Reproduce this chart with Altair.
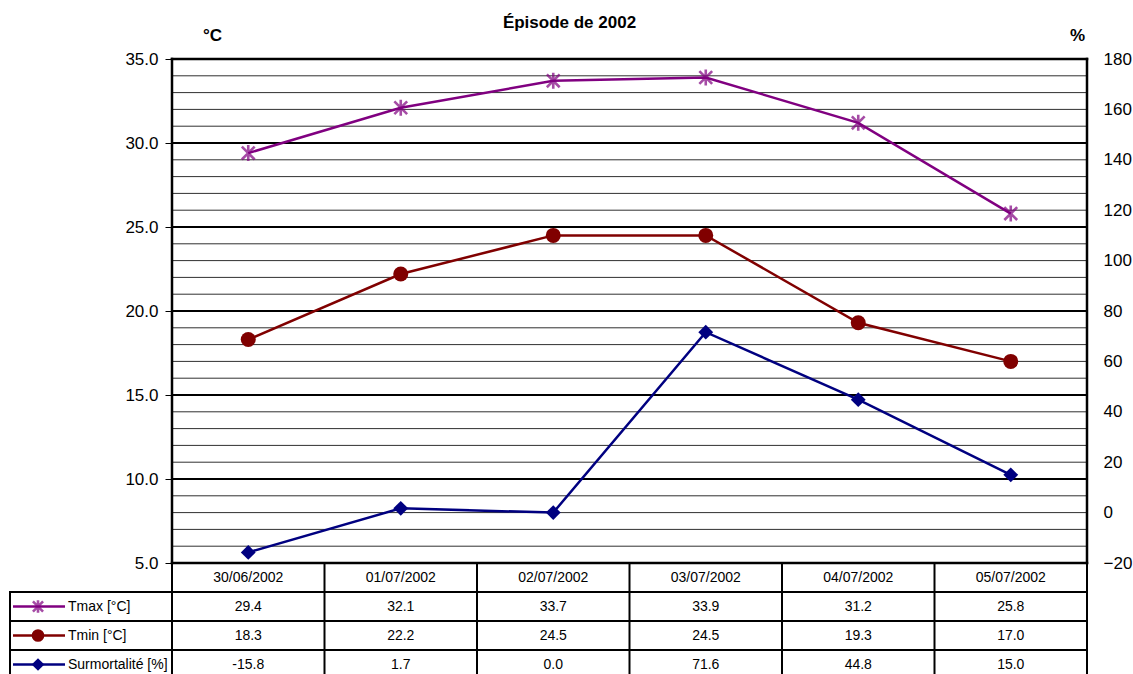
import altair as alt
import pandas as pd

# ---- data -------------------------------------------------------------
dates = ["30/06/2002", "01/07/2002", "02/07/2002", "03/07/2002", "04/07/2002", "05/07/2002"]
tmax = [29.4, 32.1, 33.7, 33.9, 31.2, 25.8]
tmin = [18.3, 22.2, 24.5, 24.5, 19.3, 17.0]
surmortalite = [-15.8, 1.7, 0.0, 71.6, 44.8, 15.0]

series_names = ["Tmax [°C]", "Tmin [°C]", "Surmortalité [%]"]
series_colors = ["#800080", "#800000", "#000080"]

temp_ticks = [5, 10, 15, 20, 25, 30, 35]
pct_ticks = [-20, 0, 20, 40, 60, 80, 100, 120, 140, 160, 180]

# ---- layout (pixels) --------------------------------------------------
COL_W = 152.5      # width of one date column
LEGEND_W = 162     # width of the legend column of the data table
PLOT_H = 504       # height of the plotting area
ROW_H = 29         # height of one table row
N_ROWS = 4         # header row + three series rows
TABLE_H = ROW_H * N_ROWS
WIDTH = 6 * COL_W + LEGEND_W
HEIGHT = PLOT_H + TABLE_H

T_LO, T_HI = temp_ticks[0], temp_ticks[-1]
P_LO, P_HI = pct_ticks[0], pct_ticks[-1]
px_deg = PLOT_H / (T_HI - T_LO)
px_pct = PLOT_H / (P_HI - P_LO)
t_domain = [T_LO - TABLE_H / px_deg, T_HI]
p_domain = [P_LO - TABLE_H / px_pct, P_HI]

n = len(dates)
x_left = -0.5 - LEGEND_W / COL_W
x_right = n - 0.5
x_domain = [x_left, x_right]
FONT = "Liberation Sans"
LINE_W = 2.5


def row_edge(k):
    """Temperature-scale y of the k-th horizontal table line below the plot."""
    return T_LO - k * ROW_H / px_deg


def row_mid(k):
    return T_LO - (k + 0.5) * ROW_H / px_deg


def px(dx):
    """Horizontal pixel offset expressed in x-scale units."""
    return dx / COL_W


# ---- rules: grid, frame and table borders ------------------------------
rules = []
for t in range(T_LO + 1, T_HI):
    if t % 5:
        rules.append(dict(x=-0.5, x2=x_right, y=t, y2=t, w=1, c="#303030"))
for t in temp_ticks[1:-1]:
    rules.append(dict(x=-0.5, x2=x_right, y=t, y2=t, w=2, c="black"))
# plot frame
rules.append(dict(x=-0.5, x2=x_right, y=T_HI, y2=T_HI, w=2.5, c="black"))
rules.append(dict(x=-0.5, x2=x_right, y=T_LO, y2=T_LO, w=2.5, c="black"))
rules.append(dict(x=-0.5, x2=-0.5, y=T_LO, y2=T_HI, w=2.5, c="black"))
rules.append(dict(x=x_right, x2=x_right, y=T_LO, y2=T_HI, w=2.5, c="black"))
# table
for k in range(1, N_ROWS + 1):
    rules.append(dict(x=x_left, x2=x_right, y=row_edge(k), y2=row_edge(k), w=2, c="black"))
for i in range(n + 1):
    rules.append(dict(x=i - 0.5, x2=i - 0.5, y=row_edge(0), y2=row_edge(N_ROWS), w=2, c="black"))
rules.append(dict(x=x_left, x2=x_left, y=row_edge(1), y2=row_edge(N_ROWS), w=2, c="black"))
rules_df = pd.DataFrame(rules)

x_enc = dict(scale=alt.Scale(domain=x_domain, nice=False, zero=False), axis=None)

left_axis = alt.Axis(
    orient="left", offset=-LEGEND_W, values=temp_ticks, format=".1f",
    domain=False, grid=False, ticks=True, tickSize=7, tickColor="black", tickWidth=1,
    labelFontSize=17, labelColor="black", labelPadding=7, labelFont=FONT,
    title="°C", titleAngle=0, titleX=40, titleY=-24, titleAlign="center",
    titleBaseline="middle", titleFontSize=17, titleFontWeight="bold", titleColor="black",
    titleFont=FONT,
)
t_scale = alt.Scale(domain=t_domain, nice=False, zero=False)

rule_layer = alt.Chart(rules_df).mark_rule(strokeCap="square").encode(
    x=alt.X("x:Q", **x_enc),
    x2="x2:Q",
    y=alt.Y("y:Q", scale=t_scale, axis=left_axis),
    y2="y2:Q",
    strokeWidth=alt.StrokeWidth("w:Q", scale=None),
    color=alt.Color("c:N", scale=None),
)

# ---- table text --------------------------------------------------------
cells = []
for i, d in enumerate(dates):
    cells.append(dict(x=i, y=row_mid(0), text=d))
for k, vals in enumerate([tmax, tmin, surmortalite], start=1):
    for i, v in enumerate(vals):
        cells.append(dict(x=i, y=row_mid(k), text=f"{v:.1f}"))
cells_df = pd.DataFrame(cells)

cell_text = alt.Chart(cells_df).mark_text(
    font=FONT, fontSize=14, color="black", align="center", baseline="middle"
).encode(x=alt.X("x:Q", **x_enc), y=alt.Y("y:Q", scale=t_scale), text="text:N")

# legend column of the table
key_df = pd.DataFrame(dict(
    x=[x_left + px(3)] * 3,
    x2=[x_left + px(55)] * 3,
    xm=[x_left + px(28)] * 3,
    xt=[x_left + px(58)] * 3,
    y=[row_mid(k) for k in (1, 2, 3)],
    name=series_names,
    c=series_colors,
))
key_lines = alt.Chart(key_df).mark_rule(strokeWidth=LINE_W).encode(
    x=alt.X("x:Q", **x_enc), x2="x2:Q", y=alt.Y("y:Q", scale=t_scale),
    color=alt.Color("c:N", scale=None),
)
key_text = alt.Chart(key_df).mark_text(
    font=FONT, fontSize=14, color="black", align="left", baseline="middle"
).encode(x=alt.X("xt:Q", **x_enc), y=alt.Y("y:Q", scale=t_scale), text="name:N")

ASTERISK = "M0,-1L0,1M-0.8,-0.8L0.8,0.8M-0.8,0.8L0.8,-0.8"
marker_styles = [
    dict(shape=ASTERISK, filled=False, strokeWidth=2.6),
    dict(shape="circle", filled=True, opacity=1),
    dict(shape="diamond", filled=True, opacity=1),
]

key_marks = [
    alt.Chart(key_df.iloc[[k]]).mark_point(size=160, color=series_colors[k], **marker_styles[k]).encode(
        x=alt.X("xm:Q", **x_enc), y=alt.Y("y:Q", scale=t_scale)
    )
    for k in range(3)
]

# ---- series -------------------------------------------------------------
temp_df = pd.DataFrame(dict(x=list(range(n)) * 2, t=tmax + tmin,
                            s=["Tmax"] * n + ["Tmin"] * n))
temp_layers = []
for k, s in enumerate(["Tmax", "Tmin"]):
    base = alt.Chart(temp_df[temp_df.s == s]).encode(
        x=alt.X("x:Q", **x_enc), y=alt.Y("t:Q", scale=t_scale)
    )
    temp_layers.append(base.mark_line(color=series_colors[k], strokeWidth=LINE_W))
    temp_layers.append(base.mark_point(
        size=256 if k == 0 else 225, color=series_colors[k], **marker_styles[k]))

left = alt.layer(rule_layer, cell_text, key_lines, key_text, *key_marks, *temp_layers)

pct_df = pd.DataFrame(dict(x=list(range(n)), p=surmortalite))
right_axis = alt.Axis(
    orient="right", values=pct_ticks, format="d", domain=False, grid=False, ticks=False,
    labelFontSize=17, labelColor="black", labelPadding=16, labelFont=FONT,
    title="%", titleAngle=0, titleX=-10, titleY=-24, titleAlign="center",
    titleBaseline="middle", titleFontSize=17, titleFontWeight="bold", titleColor="black",
    titleFont=FONT,
)
pct_base = alt.Chart(pct_df).encode(
    x=alt.X("x:Q", **x_enc),
    y=alt.Y("p:Q", scale=alt.Scale(domain=p_domain, nice=False, zero=False), axis=right_axis),
)
right = alt.layer(
    pct_base.mark_line(color=series_colors[2], strokeWidth=LINE_W),
    pct_base.mark_point(size=220, color=series_colors[2], **marker_styles[2]),
)

chart = alt.layer(left, right).resolve_scale(y="independent").properties(
    width=WIDTH,
    height=HEIGHT,
    title=alt.TitleParams("Épisode de 2002", font=FONT, fontSize=17, fontWeight="bold",
                          color="black", anchor="middle", dx=21, offset=-6),
    autosize=alt.AutoSizeParams(type="none"),
    padding={"left": 10, "top": 59, "right": 46, "bottom": 0},
    background="white",
).configure_view(stroke=None)

chart.save("out.html", embed_options={"renderer": "svg", "actions": False})
